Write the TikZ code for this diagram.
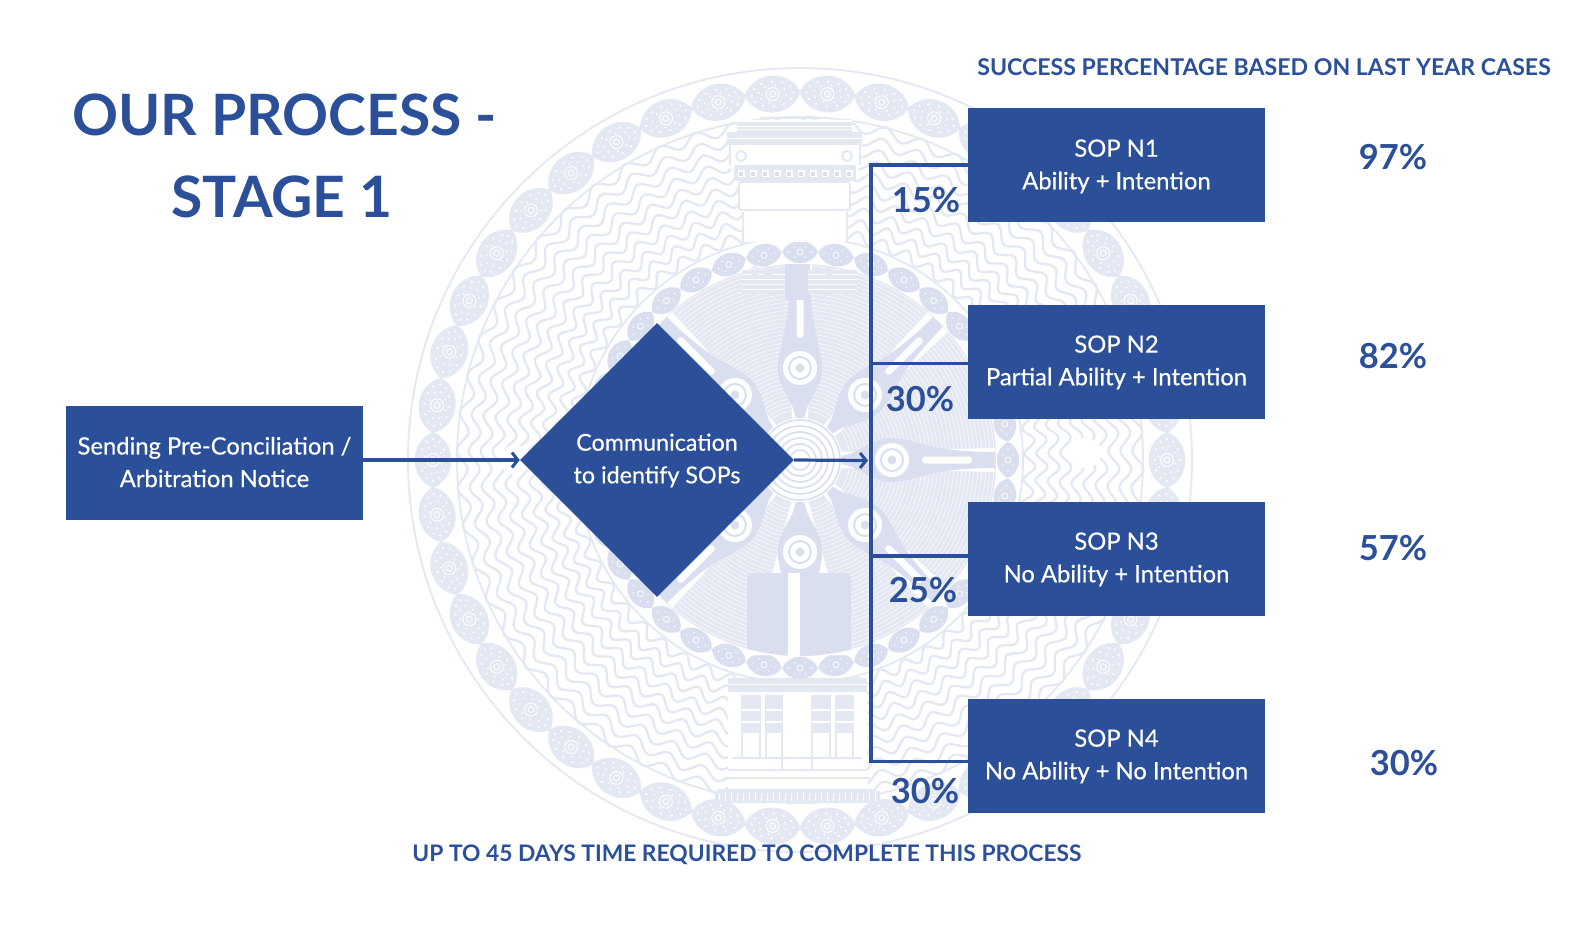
\documentclass[tikz,border=0pt]{standalone}
\usepackage{fontspec}
\setmainfont{Lato}
\usetikzlibrary{shapes.geometric,arrows.meta}
\definecolor{brand}{HTML}{2B5099}
\definecolor{wm}{HTML}{E4E8F3}
\definecolor{wmd}{HTML}{D9DFEE}
\newcommand\boxtype[1]{\fontsize{#1}{32.6}\selectfont\addfontfeature{FakeBold=0.35}}
\newcommand\dnstrut{\rule{0pt}{20pt}}
\newcommand\dnstrutb{\rule{0pt}{18pt}}
\tikzset{
  box/.style={fill=brand,text=white,minimum width=297pt,minimum height=114pt,inner sep=0pt,align=center,font=\boxtype{23.8}},
  dec/.style={fill=brand,text=white,shape=diamond,aspect=1,minimum width=274pt,minimum height=274pt,inner sep=0pt,align=center,font=\boxtype{23.3}},
  conn/.style={draw=brand,line width=3.2pt},
  arrowed/.style={-{Straight Barb[length=6pt,width=15pt,line width=3pt]}},
  pct/.style={text=brand,font=\fontsize{34.5}{35}\selectfont\bfseries,inner sep=0pt},
  note/.style={text=brand,font=\fontsize{23.1}{23}\selectfont\bfseries,inner sep=0pt},
  foot/.style={text=brand,font=\fontsize{22.8}{23}\selectfont\bfseries,inner sep=0pt},
  heading/.style={text=brand,font=\fontsize{57}{58}\selectfont\bfseries,inner sep=0pt},
  wave/.style={draw=wm,line width=2.3pt},
  wmline/.style={draw=wm,line width=1.8pt},
}
\begin{document}
\begin{tikzpicture}[x=1pt,y=-1pt]
\useasboundingbox[fill=white] (0,0) rectangle (1596,939);
% ---------- watermark
\begin{scope}[shift={(800,460)}]
  \draw[wmline] (0,0) circle (392);
  \draw[wmline] (0,0) circle (343);
  % wavy ring
  \foreach \r in {230,242,...,338}{
    \draw[wave] plot[domain=0:56,samples=673] ({\x*6.42857}:{\r+5.5*sin(360*(\x-floor(\x)))});
  }
  % outer chain
  \foreach \a in {0,8.5714,...,359}{
    \begin{scope}[rotate=\a,shift={(367,0)},rotate=90]
      \fill[wm] (-28,0) .. controls (-18,-24.5) and (18,-24.5) .. (28,0) .. controls (18,24.5) and (-18,24.5) .. (-28,0) -- cycle;
      \fill[white] foreach \b in {0,30,...,330}{ (\b:21 and 12.5) circle (1.2) };
      \fill[white] foreach \b in {15,60,...,345}{ (\b:14 and 8.5) circle (1) };
      \draw[white,line width=1pt] (0,0) circle (6.5);
      \draw[white,line width=1pt] (0,0) circle (3);
    \end{scope}
  }
  % inner ring, disc
  \fill[white] (0,0) circle (223);
  \draw[wmline] (0,0) circle (223);
  \fill[wm] (0,0) circle (196);
  \foreach \r in {50,54,...,194}{
    \draw[white,line width=.45pt] (0,0) circle (\r);
  }
  \foreach \a in {0,10,...,359}{
    \begin{scope}[rotate=\a,shift={(208,0)},rotate=90]
      \fill[wmd] (-18,0) .. controls (-11,-15) and (11,-15) .. (18,0) .. controls (11,15) and (-11,15) .. (-18,0) -- cycle;
      \fill[white] foreach \b in {0,60,...,300}{ (\b:11 and 6) circle (.8) };
      \draw[white,line width=.8pt] (0,0) circle (3);
    \end{scope}
  }
  % spokes
  \foreach \a/\w/\b in {-90/50/10,90/12/10,0/12/8,180/12/8,45/14/7,135/14/7,-45/14/7,-135/14/7}{
    \begin{scope}[rotate=\a]
      \fill[white] (40,-8) -- (195,-\w) -- (195,\w) -- (40,8) -- cycle;
      \fill[wmd] (40,-4) .. controls (60,-6) and (70,-22) .. (92,-22) .. controls (115,-22) and (125,-\b) .. (195,-\b)
        -- (195,\b) .. controls (125,\b) and (115,22) .. (92,22) .. controls (70,22) and (60,6) .. (40,4) -- cycle;
      \fill[white] (92,0) circle (17);
      \draw[wmd,line width=2pt] (92,0) circle (11);
      \fill[wmd] (92,0) circle (4.5);
      \fill[white,rounded corners=3pt] (122,-3.5) rectangle (172,3.5);
    \end{scope}
  }
  % bottom filled blocks
  \begin{scope}
    \clip (0,0) circle (196);
    \fill[wmd,rounded corners=6pt] (-53,113) rectangle (-12,210);
    \fill[wmd,rounded corners=6pt] (0,113) rectangle (51,210);
    \fill[white] (-12,113) rectangle (0,210);
  \end{scope}
  % hub
  \fill[white] (0,0) circle (42);
  \foreach \r in {40,34,28,22,16,10}{
    \draw[wmd,line width=1.6pt] (0,0) circle (\r);
  }
  % white dots in wave ring
  \fill[white] (286,-7) circle (15);
  \fill[white] (-285,0) circle (15);
\end{scope}
% upper column
\begin{scope}
  \fill[white] (737,120) -- (852,120) -- (852,132) -- (862,132) -- (862,145) -- (860,167) -- (853,180) -- (850,182)
     -- (850,212) -- (847,212) -- (847,242) -- (743,242) -- (743,212) -- (739,212) -- (739,182) -- (737,180) -- (730,167) -- (727,145) -- (727,132) -- (737,132) -- cycle;
  \draw[wmline] (760,118) -- (830,118);
  \fill[wm] (737,122) rectangle (852,132);
  \draw[white,line width=.8pt] (737,126) -- (852,126) (737,129) -- (852,129);
  \fill[wm] (727,132) rectangle (862,145);
  \draw[white,line width=1pt] (727,139) -- (862,139);
  \draw[wmline] (730,145) -- (730,165) (860,145) -- (860,165);
  \fill[wm] (734,165) rectangle (856,181);
  \foreach \x in {741,753,...,850}{
    \fill[white] (\x-3.5,170.5) rectangle (\x+3.5,177.5);
    \fill[wmd] (\x-2,172) rectangle (\x+2,176);
  }
  \draw[wmline] (741,156) circle (5) (847,156) circle (5);
  \draw[wmline,rounded corners=2pt] (739,182) rectangle (850,210);
  \draw[wmline] (743,212) -- (743,242) (847,212) -- (847,242);
  % inner capitals
  \fill[wm] (742,270) rectangle (788,293);
  \fill[wm] (808,270) rectangle (857,293);
  \foreach \y in {274,279,284,289}{
    \draw[white,line width=1pt] (742,\y) -- (788,\y) (808,\y) -- (857,\y);
  }
  \fill[wmd] (785,264) rectangle (808,300);
  \draw[wmline] (755,271) circle (4) (768,271) circle (4) (829,271) circle (4);
  % lower temple
  \fill[white] (728,678) rectangle (867,803);
  \fill[wm] (728,678) rectangle (867,692);
  \draw[white,line width=1pt] (728,684) -- (867,684);
  \foreach \l/\r in {742/760,766/782,812/830,836/853}{
    \draw[wmline] (\l,695) -- (\l,758) (\r,695) -- (\r,758);
    \fill[wm] (\l,695) rectangle (\r,733);
    \draw[white,line width=1.2pt] (\l,710) -- (\r,710) (\l,722) -- (\r,722);
  }
  \draw[wmline] (732,758) -- (862,758) (728,770) -- (866,770) (724,778) -- (870,778) (718,790) -- (876,790);
  \draw[wmline] (782,758) -- (782,770) (812,758) -- (812,770);
  \fill[wm] (715,791) rectangle (880,803);
  \foreach \x in {719,725,...,878}{
    \draw[white,line width=1pt] (\x,793) -- (\x,801);
  }
\end{scope}
% ---------- diagram
\node[box] (start) at (214.5,463) {Sending Pre-Conciliation /\\Arbitration Notice\rule[-2pt]{0pt}{2pt}};
\node[dec] (dia) at (657,460) {\dnstrutb Communication\\to identify SOPs};
\node[box] (sop1) at (1116.5,165) {\dnstrut SOP N1\\Ability + Intention};
\node[box] (sop2) at (1116.5,362) {\dnstrutb SOP N2\\Partial Ability + Intention};
\node[box] (sop3) at (1116.5,559) {\dnstrutb SOP N3\\No Ability + Intention};
\node[box] (sop4) at (1116.5,756) {\dnstrutb SOP N4\\No Ability + No Intention};
\coordinate (t0) at (868,460.5);
\coordinate (t1) at (871,165);
\coordinate (t2) at (871,363.5);
\coordinate (t3) at (871,556);
\coordinate (t4) at (871,761.5);
\draw[conn,arrowed] (start.east |- dia) -- (dia.west);
\draw[conn,arrowed] (dia.east) -- (t0);
\draw[conn,line cap=rect] (t1) -- (t4);
\draw[conn] (t1) -- (sop1.west |- t1);
\draw[conn] (t2) -- (sop2.west |- t2);
\draw[conn] (t3) -- (sop3.west |- t3);
\draw[conn] (t4) -- (sop4.west |- t4);
\node[heading] (title1) at (284.5,115) {OUR PROCESS -};
\node[heading] (title2) at (282,196.5) {STAGE 1};
\node[note] (head) at (1264,67) {SUCCESS PERCENTAGE BASED ON LAST YEAR CASES};
\node[foot] (footer) at (747,855) {UP TO 45 DAYS TIME REQUIRED TO COMPLETE THIS PROCESS};
\node[pct] (p1) at (926,200) {15\%};
\node[pct] (p2) at (920,399) {30\%};
\node[pct] (p3) at (923,590) {25\%};
\node[pct] (p4) at (925,791) {30\%};
\node[pct] (s1) at (1393,157) {97\%};
\node[pct] (s2) at (1393,356) {82\%};
\node[pct] (s3) at (1393,548) {57\%};
\node[pct] (s4) at (1404,763) {30\%};
\end{tikzpicture}
\end{document}
